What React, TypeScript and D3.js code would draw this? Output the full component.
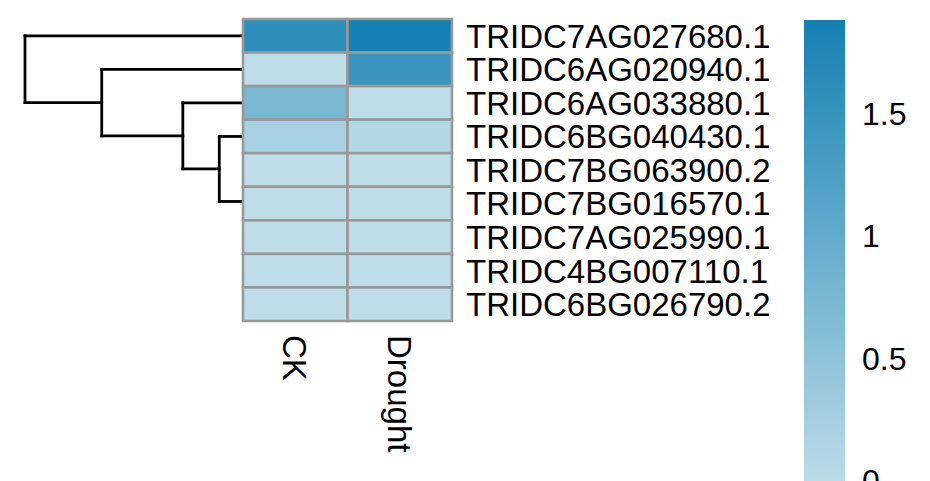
import React from "react";
import * as d3 from "d3";

const rowLabels = [
  "TRIDC7AG027680.1",
  "TRIDC6AG020940.1",
  "TRIDC6AG033880.1",
  "TRIDC6BG040430.1",
  "TRIDC7BG063900.2",
  "TRIDC7BG016570.1",
  "TRIDC7AG025990.1",
  "TRIDC4BG007110.1",
  "TRIDC6BG026790.2",
];
const colLabels = ["CK", "Drought"];
const ckValues = [1.61, 0.0, 0.77, 0.26, 0.0, 0.0, 0.0, 0.0, 0.0];
const droughtValues = [1.88, 1.47, 0.0, 0.12, 0.0, 0.0, 0.0, 0.0, 0.0];
const legendTicks = [0, 0.5, 1, 1.5];
// dendrogram merges: [left, right, height]; "L#" leaf, "M#" previous merge
const mergeLeft = ["L7", "L6", "L5", "L4", "L3", "L2", "L1", "L0"];
const mergeRight = ["L8", "M0", "M1", "M2", "M3", "M4", "M5", "M6"];
const mergeHeights = [0, 0, 0, 0, 0.272, 0.69, 1.62, 2.5];

const W = 930;
const H = 481;
const FONT = "'Liberation Sans', Arial, sans-serif";
const FS = 33;
const LFS = 32;

export default function App() {
  const values = [ckValues, droughtValues];
  const vmax = d3.max(values.flat()) as number;
  const color = d3
    .scaleLinear<string>()
    .domain([0, vmax])
    .range(["#bfdde9", "#1580b3"])
    .interpolate(d3.interpolateRgb);

  const x = d3.scaleBand().domain(colLabels).range([243, 452]);
  const y = d3.scaleBand().domain(rowLabels).range([19, 321]);
  const rootH = mergeHeights[mergeHeights.length - 1];
  const dx = d3.scaleLinear().domain([0, rootH]).range([243, 25]);

  const pos: Record<string, { y: number; h: number }> = {};
  rowLabels.forEach((r, i) => {
    pos["L" + i] = { y: (y(r) as number) + y.bandwidth() / 2, h: 0 };
  });
  const segs: { x1: number; y1: number; x2: number; y2: number }[] = [];
  mergeHeights.forEach((h, i) => {
    const a = pos[mergeLeft[i]];
    const b = pos[mergeRight[i]];
    const xn = dx(h);
    if (h > 0) {
      segs.push({ x1: xn, y1: a.y, x2: xn, y2: b.y });
      segs.push({ x1: xn, y1: a.y, x2: dx(a.h), y2: a.y });
      segs.push({ x1: xn, y1: b.y, x2: dx(b.h), y2: b.y });
    }
    pos["M" + i] = { y: (a.y + b.y) / 2, h };
  });

  const legTop = 20;
  const legY = d3.scaleLinear().domain([0, vmax]).range([480.8, legTop]);
  const gradStops = d3.range(0, 11).map((i) => i / 10);

  return (
    <svg
      width={W}
      height={H}
      style={{ position: "absolute", left: 0, top: 0, background: "#fff" }}
      fontFamily={FONT}
    >
      <rect x={0} y={0} width={W} height={H} fill="#fff" />
      <g stroke="#000" strokeWidth={2.8} strokeLinecap="square" fill="none">
        {segs.map((s, i) => (
          <line key={i} x1={s.x1} y1={s.y1} x2={s.x2} y2={s.y2} />
        ))}
      </g>
      <g>
        {rowLabels.map((r, i) =>
          colLabels.map((c, j) => (
            <rect
              key={r + c}
              x={x(c)}
              y={y(r)}
              width={x.bandwidth()}
              height={y.bandwidth()}
              fill={color(values[j][i])}
              stroke="#999999"
              strokeWidth={2.6}
            />
          ))
        )}
      </g>
      <g fontSize={FS} fill="#000">
        {rowLabels.map((r) => (
          <text key={r} x={466} y={(y(r) as number) + y.bandwidth() / 2} dy="0.36em">
            {r}
          </text>
        ))}
        {colLabels.map((c) => (
          <text
            key={c}
            transform={`translate(${(x(c) as number) + x.bandwidth() / 2},335) rotate(90)`}
            dy="0.36em"
          >
            {c}
          </text>
        ))}
      </g>
      <defs>
        <linearGradient id="leg" x1="0" y1="1" x2="0" y2="0">
          {gradStops.map((t) => (
            <stop key={t} offset={t} stopColor={color(t * vmax)} />
          ))}
        </linearGradient>
      </defs>
      <rect x={804} y={legTop} width={41} height={legY(0) - legTop + 10} fill="url(#leg)" />
      <g fontSize={LFS} fill="#000">
        {legendTicks.map((t) => (
          <text key={t} x={862} y={legY(t)} dy="0.36em">
            {t}
          </text>
        ))}
      </g>
    </svg>
  );
}
